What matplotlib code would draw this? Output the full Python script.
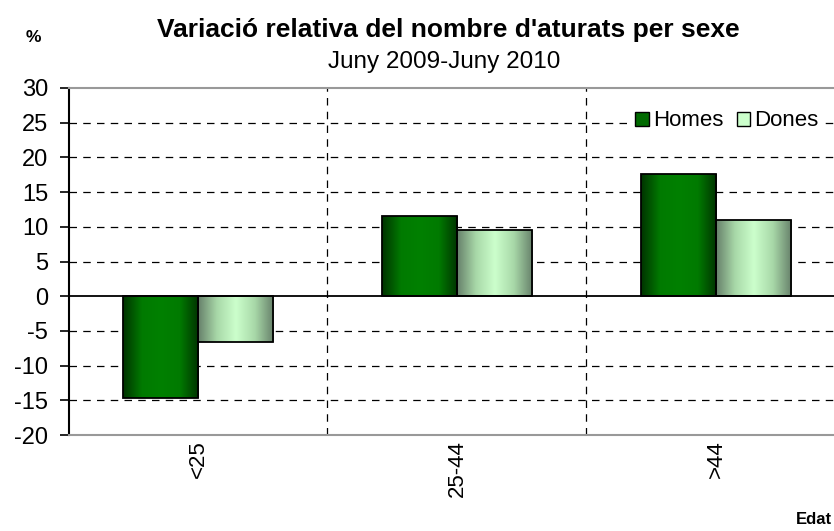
import numpy as np
import matplotlib.pyplot as plt
from matplotlib.colors import LinearSegmentedColormap
from matplotlib.patches import Patch

plt.rcParams['font.family'] = ['Liberation Sans', 'DejaVu Sans']
plt.rcParams['axes.unicode_minus'] = False

categories = ['<25', '25-44', '>44']
homes = [-14.7, 11.6, 17.6]
dones = [-6.6, 9.5, 11.0]

W, H = 834, 531
fig = plt.figure(figsize=(W / 100, H / 100), dpi=100)
ax = fig.add_axes([68.5 / W, 1 - 435 / H, 777 / W, 347 / H])

x = np.arange(len(categories))
bw = 0.29

cmap_h = LinearSegmentedColormap.from_list('h', ['#003300', '#007a00', '#008000', '#007a00', '#003300'])
cmap_d = LinearSegmentedColormap.from_list('d', ['#66806a', '#a8d8a8', '#ccffcc', '#a8d8a8', '#66806a'])
grad = np.linspace(0, 1, 256).reshape(1, -1)


def gradient_bars(xs, vals, cmap):
    bars = ax.bar(xs, vals, bw, color='none', edgecolor='black', linewidth=1.3, zorder=4)
    for b in bars:
        x0, y0 = b.get_x(), b.get_y()
        w, h = b.get_width(), b.get_height()
        im = ax.imshow(grad, cmap=cmap, aspect='auto', extent=(x0, x0 + w, y0, y0 + h),
                       zorder=3, interpolation='bilinear')
        im.set_clip_path(b)
    return bars


gradient_bars(x - bw / 2, homes, cmap_h)
gradient_bars(x + bw / 2, dones, cmap_d)

ax.set_xlim(-0.5, 2.5)
ax.set_ylim(-20, 30)
ax.set_yticks(np.arange(-20, 31, 5))
ax.tick_params(axis='y', labelsize=17, length=6.5, width=1.2, pad=8)
ax.set_xticks(x)
ax.set_xticklabels(categories, rotation=90, fontsize=16)
ax.tick_params(axis='x', length=0, pad=4)

for yv in np.arange(-15, 30, 5):
    if yv != 0:
        ax.axhline(yv, color='black', lw=0.9, ls=(0, (6, 5)), zorder=1)
for xv in [0.5, 1.5]:
    ax.axvline(xv, color='black', lw=0.9, ls=(0, (6, 5)), zorder=1)
ax.axhline(0, color='black', lw=1.3, zorder=5)

ax.spines['right'].set_visible(False)
ax.spines['top'].set_color('#999999')
ax.spines['bottom'].set_color('#999999')
ax.spines['top'].set_linewidth(1.5)
ax.spines['bottom'].set_linewidth(1.5)
ax.spines['left'].set_linewidth(1.5)

handles = [Patch(facecolor='#006a00', edgecolor='black', label='Homes'),
           Patch(facecolor='#ccffcc', edgecolor='black', label='Dones')]
leg = ax.legend(handles=handles, loc='center right',
                bbox_to_anchor=((821 - 68.5) / 777, 1 - (121 - 88) / 347),
                ncol=2, fontsize=16, frameon=True, handlelength=0.6, handleheight=0.6,
                handletextpad=0.2, columnspacing=0.6, borderpad=0.1, borderaxespad=0)
leg.get_frame().set_edgecolor('none')
leg.get_frame().set_facecolor('white')
leg.get_frame().set_alpha(1)
leg.set_zorder(6)

fig.text(448 / W, 1 - 30 / H, "Variació relativa del nombre d'aturats per sexe",
         ha='center', va='center', fontsize=19, fontweight='bold')
fig.text(444 / W, 1 - 62 / H, 'Juny 2009-Juny 2010', ha='center', va='center', fontsize=17.5)
fig.text(33 / W, 1 - 37 / H, '%', ha='center', va='center', fontsize=12.5, fontweight='bold')
fig.text(814 / W, 1 - 519 / H, 'Edat', ha='center', va='center', fontsize=12, fontweight='bold')

fig.savefig('out.png', dpi=100)
